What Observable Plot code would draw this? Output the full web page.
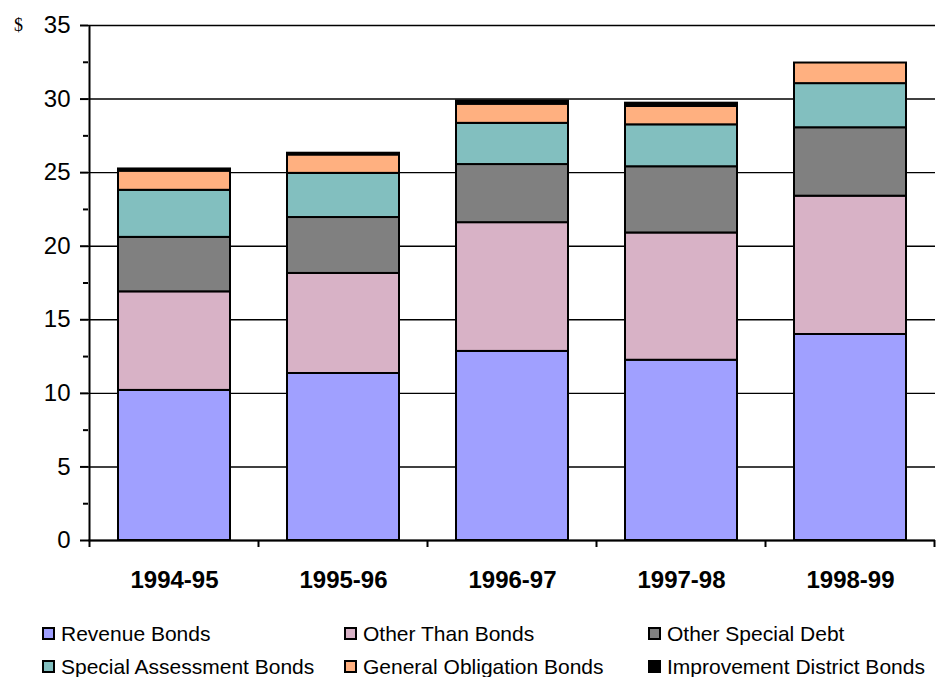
<!DOCTYPE html>
<html><head><meta charset="utf-8">
<script src="https://cdn.jsdelivr.net/npm/d3@7"></script>
<script src="https://cdn.jsdelivr.net/npm/@observablehq/plot@0.6"></script>
<style>
body{margin:0;background:#fff;font-family:"Liberation Sans",Arial,sans-serif;}
#chart{position:relative;width:939px;}
#legend{display:grid;grid-template-columns:302px 304px auto;padding-left:42px;row-gap:10px;margin-top:22px;}
.item{display:flex;align-items:center;font-size:21px;color:#000;height:23px;white-space:nowrap;}
.sw{width:13px;height:13px;box-sizing:border-box;border:2px solid #000;margin-right:6px;flex:none;}
</style></head><body><div id="chart"></div><script>
const years = ["1994-95","1995-96","1996-97","1997-98","1998-99"];
const seriesNames = ["Revenue Bonds","Other Than Bonds","Other Special Debt","Special Assessment Bonds","General Obligation Bonds","Improvement District Bonds"];
const seriesColors = ["#a0a0ff","#d8b2c6","#808080","#82bfbf","#ffb080","#000000"];
const revenueBonds = [10.2, 11.35, 12.85, 12.25, 14.0];
const otherThanBonds = [6.7, 6.8, 8.75, 8.65, 9.4];
const otherSpecialDebt = [3.7, 3.8, 3.95, 4.5, 4.65];
const specialAssessmentBonds = [3.2, 3.0, 2.8, 2.85, 3.0];
const generalObligationBonds = [1.3, 1.25, 1.3, 1.25, 1.4];
const improvementDistrictBonds = [0.15, 0.12, 0.22, 0.22, 0.0];
const yTicks = [0, 5, 10, 15, 20, 25, 30, 35];
const yMinorTicks = [2.5, 7.5, 12.5, 17.5, 22.5, 27.5, 32.5];
const yUnit = "$";

const seriesValues = [revenueBonds, otherThanBonds, otherSpecialDebt, specialAssessmentBonds, generalObligationBonds, improvementDistrictBonds];
const data = [];
seriesNames.forEach((s, si) => years.forEach((yr, i) => data.push({year: yr, series: s, value: seriesValues[si][i]})));

const boundaries = (index, scales, values, dims) => {
  const x = scales.x, y = scales.y;
  const bw = x.bandwidth ? x.bandwidth() : 0;
  const st = x.step ? x.step() : (dims.width - dims.marginLeft - dims.marginRight) / years.length;
  const b = years.map(d => x(d) + bw / 2 - st / 2).concat([x(years[years.length - 1]) + bw / 2 + st / 2]);
  const g = d3.create("svg:g").attr("stroke", "#000").attr("stroke-width", 2);
  g.selectAll("line.t").data(b).join("line").attr("class", "t")
    .attr("x1", d => d).attr("x2", d => d).attr("y1", y(0)).attr("y2", y(0) + 7);
  g.append("line").attr("x1", b[0]).attr("x2", b[0]).attr("y1", y(0)).attr("y2", y(yTicks[yTicks.length - 1]));
  return g.node();
};

const chart = Plot.plot({
  width: 939, height: 600,
  marginLeft: 88, marginRight: 4, marginTop: 25, marginBottom: 60,
  x: {domain: years, paddingInner: 0.34, paddingOuter: 0.17, axis: null},
  y: {domain: [0, 35], axis: null},
  color: {domain: seriesNames, range: seriesColors},
  style: {fontFamily: "'Liberation Sans', Arial, sans-serif", background: "#fff", color: "#000", overflow: "visible"},
  marks: [
    Plot.ruleY(yTicks, {stroke: "#000", strokeWidth: 1.4}),
    Plot.barY(data, {x: "year", y: "value", z: "series", fill: "series", stroke: "#000", strokeWidth: 2}),
    Plot.ruleY([0], {stroke: "#000", strokeWidth: 2.2}),
    Plot.axisY({ticks: yTicks, tickSize: 8, tickPadding: 10, fontSize: 24, strokeWidth: 2, label: null}),
    Plot.axisY({ticks: yMinorTicks, tickSize: 5, tickFormat: () => "", strokeWidth: 2, label: null}),
    Plot.axisX({tickSize: 0, tickPadding: 30, fontSize: 24, fontWeight: "bold", label: null}),
    boundaries,
    Plot.text([yUnit], {frameAnchor: "top-left", dx: -70, dy: -7, fontSize: 18, fontFamily: "'Liberation Serif', 'DejaVu Serif', serif", textAnchor: "middle"})
  ]
});
const root = document.getElementById("chart");
root.appendChild(chart);

const legend = document.createElement("div");
legend.id = "legend";
seriesNames.forEach((s, i) => {
  const it = document.createElement("div"); it.className = "item";
  const sw = document.createElement("span"); sw.className = "sw"; sw.style.background = seriesColors[i];
  const tx = document.createElement("span"); tx.textContent = s;
  it.appendChild(sw); it.appendChild(tx); legend.appendChild(it);
});
root.appendChild(legend);
</script></body></html>
